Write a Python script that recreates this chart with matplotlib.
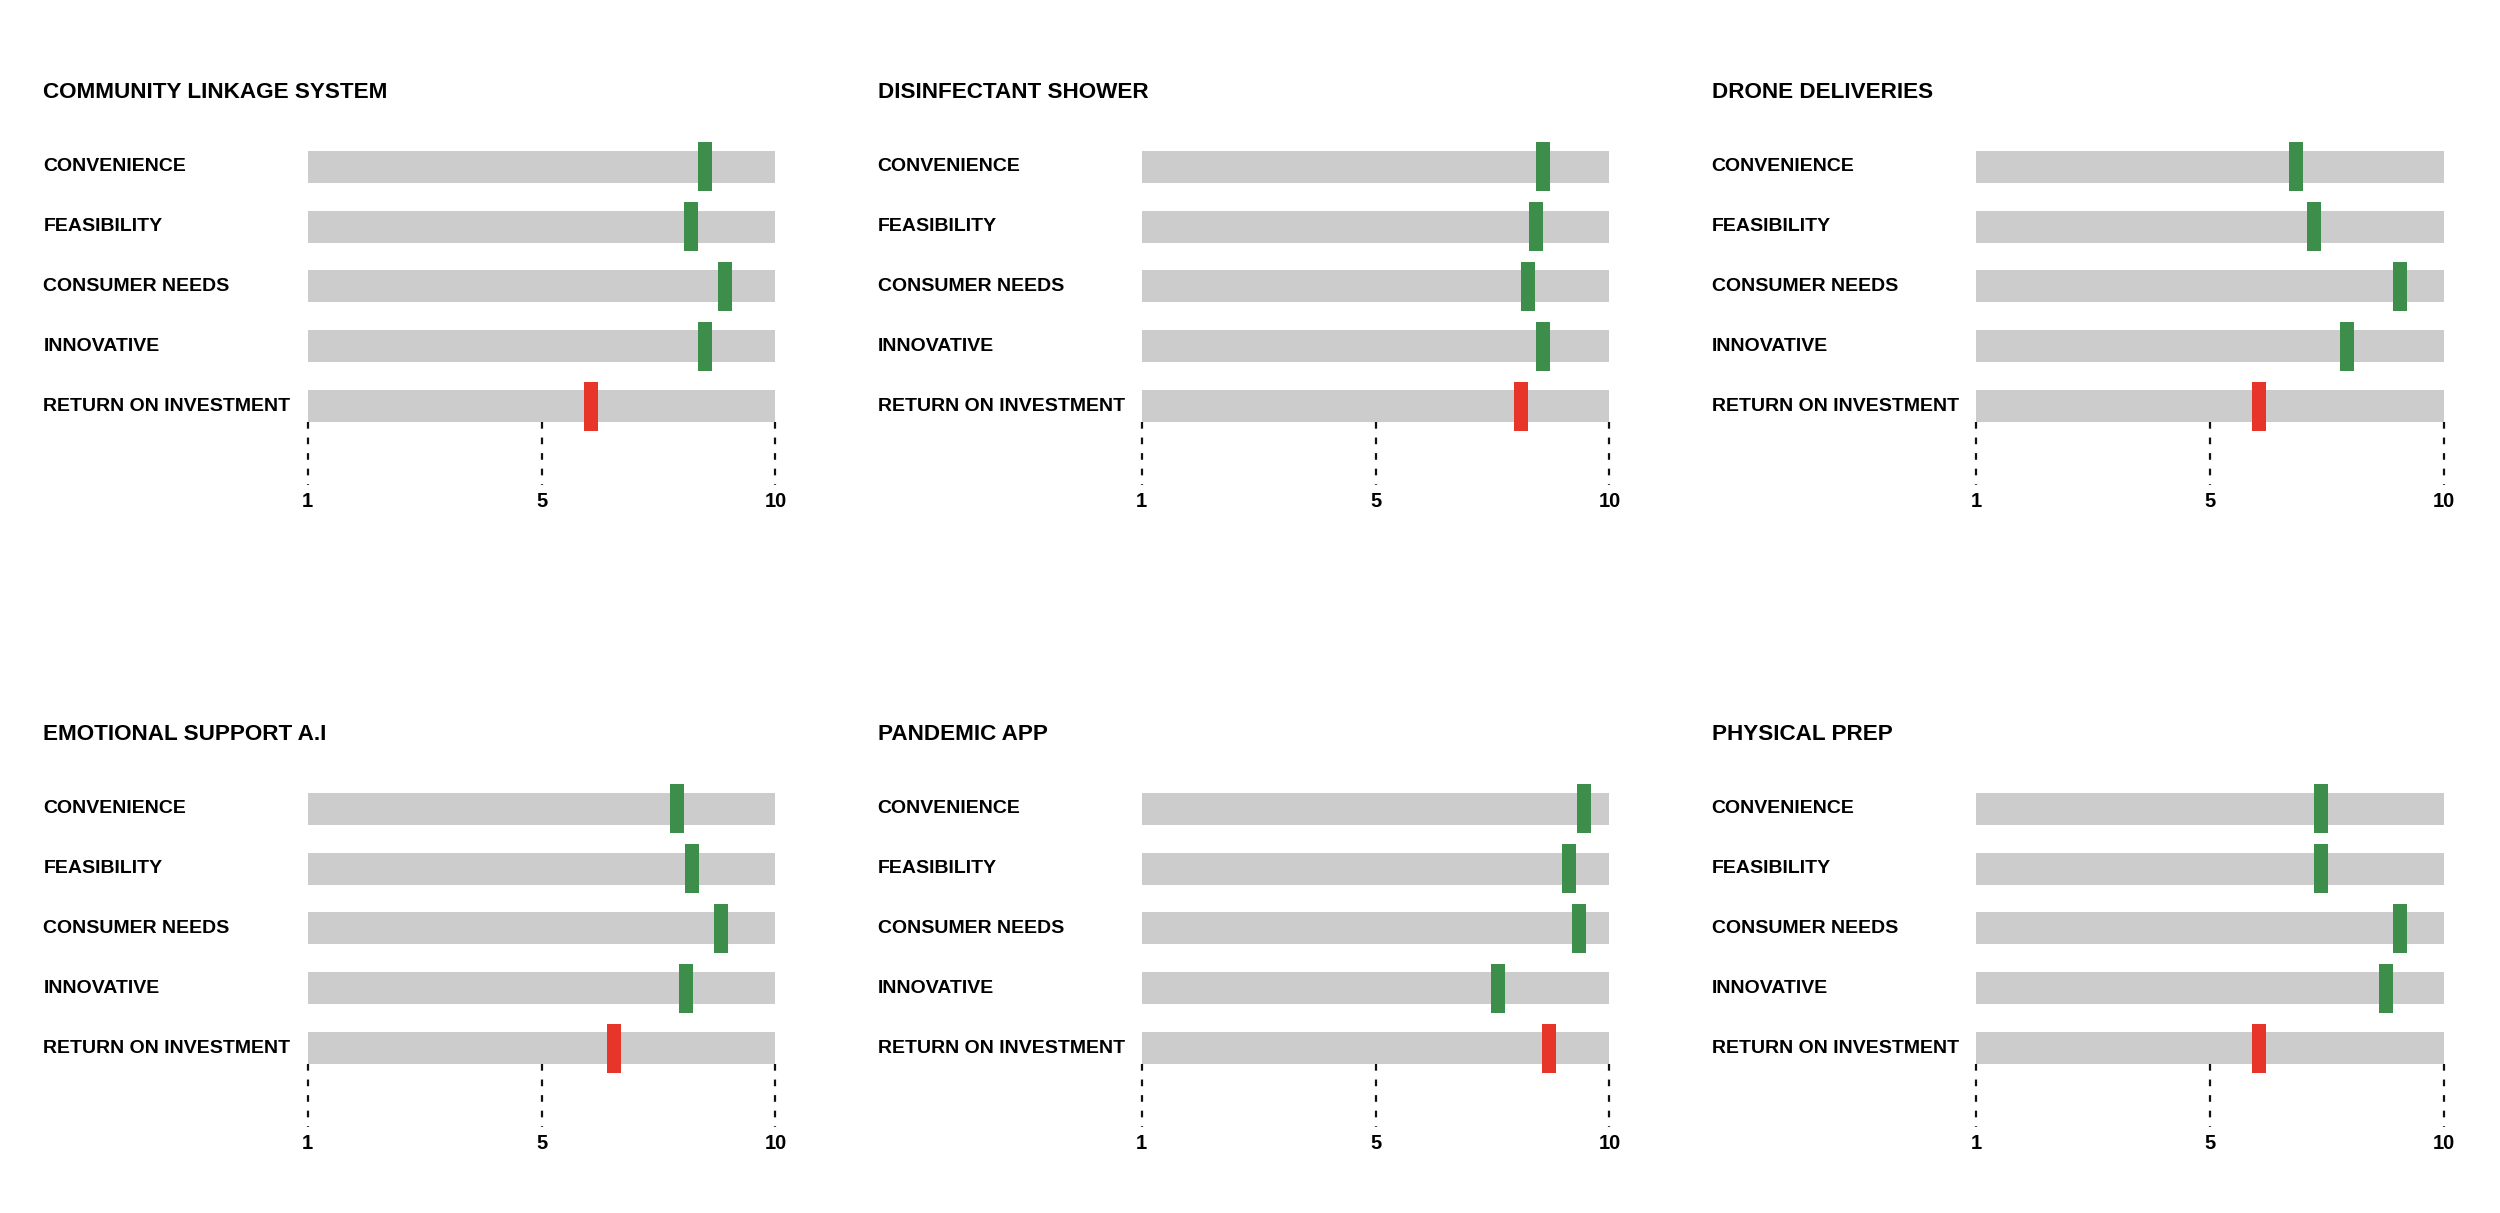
import numpy as np
import matplotlib
matplotlib.use('Agg')
import matplotlib.pyplot as plt
import matplotlib.transforms as mtrans
from matplotlib import rcParams

rcParams['font.family'] = ['Liberation Sans', 'DejaVu Sans']
rcParams['font.weight'] = 'bold'

criteria = ['CONVENIENCE', 'FEASIBILITY', 'CONSUMER NEEDS', 'INNOVATIVE', 'RETURN ON INVESTMENT']
ideas = ['COMMUNITY LINKAGE SYSTEM', 'DISINFECTANT SHOWER', 'DRONE DELIVERIES',
         'EMOTIONAL SUPPORT A.I', 'PANDEMIC APP', 'PHYSICAL PREP']

# scores (0 = left end "1", 10 = right end "10")
community = [8.49, 8.20, 8.92, 8.50, 6.06]
disinfectant = [8.57, 8.42, 8.26, 8.57, 8.11]
drone = [6.84, 7.22, 9.06, 7.93, 6.06]
emotional = [7.89, 8.22, 8.83, 8.09, 6.55]
pandemic = [9.46, 9.14, 9.35, 7.61, 8.71]
physical = [7.37, 7.38, 9.06, 8.77, 6.06]

tick_pos = [0, 5, 10]
tick_labels = ['1', '5', '10']

scores = [community, disinfectant, drone, emotional, pandemic, physical]

grey = '#cccccc'
green = '#3e8e4b'
red = '#e8352a'

W, H = 2500, 1213
fig = plt.figure(figsize=(W / 100, H / 100), dpi=100, facecolor='white')

lefts = [307.7, 1141.8, 1975.9]
bottoms = [485, 1127]
ax_w = 467.7
ax_h = 348
label_x = -0.565
ylim = (5.32, -0.5)

for k, (name, vals) in enumerate(zip(ideas, scores)):
    col, row = k % 3, k // 3
    ax = fig.add_axes([lefts[col] / W, 1 - bottoms[row] / H, ax_w / W, ax_h / H])
    y = np.arange(len(criteria))
    ax.barh(y, 10, left=0, height=0.535, color=grey, zorder=1)
    cols = [green] * (len(criteria) - 1) + [red]
    ax.barh(y, 0.3, left=np.array(vals) - 0.15, height=0.82, color=cols, zorder=3)
    ax.vlines(tick_pos, 4 + 0.268, ylim[0], colors='#111111', linestyles=(0, (3, 4)),
              lw=1.6, zorder=0, clip_on=False)
    ax.set_xlim(0, 10)
    ax.set_ylim(*ylim)
    ax.set_xticks(tick_pos, tick_labels)
    ax.tick_params(axis='x', length=0, pad=5, labelsize=14.5)
    ax.set_yticks([])
    for s in ax.spines.values():
        s.set_visible(False)
    ax.patch.set_alpha(0)

    tr = mtrans.blended_transform_factory(ax.transAxes, ax.transData)
    for i, c in enumerate(criteria):
        ax.text(label_x, i, c, transform=tr, ha='left', va='center', fontsize=14, fontweight='bold', clip_on=False)
    ax.text(label_x, -1.25, name, transform=tr, ha='left', va='center', fontsize=16.2, fontweight='bold', clip_on=False)

fig.savefig('out.png', dpi=100, facecolor='white')
